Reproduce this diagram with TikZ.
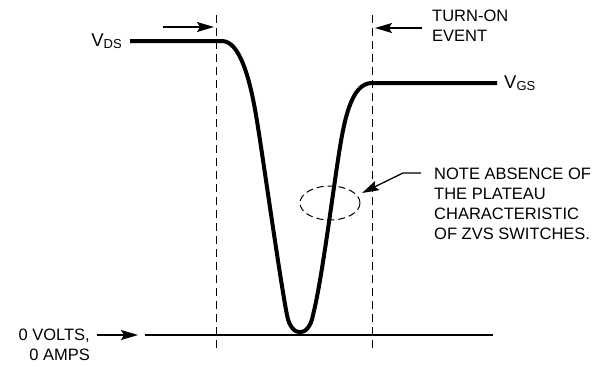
\documentclass[tikz,border=0pt]{standalone}
\usepackage{fontspec}
\setmainfont{Liberation Sans}
\usepackage{tikz}
\usetikzlibrary{arrows.meta,positioning,shapes.geometric}
\newcommand{\lowsub}[1]{{\fontsize{13}{13}\selectfont\raisebox{-1.5pt}{#1}}}
\tikzset{
  wave/.style={line width=4pt,line join=round},
  zeroline/.style={line width=2.3pt},
  vline/.style={line width=1.2pt,dash pattern=on 8pt off 5pt},
  ring/.style={line width=1pt,dash pattern=on 7pt off 4pt},
  arr/.style={-{Stealth[length=17pt,width=10pt,inset=3pt]},line width=1.3pt},
  lbl/.style={font=\fontsize{16.5}{20}\selectfont,inner sep=0pt},
  vlbl/.style={font=\fontsize{18.5}{20}\selectfont,inner sep=0pt},
}

\begin{document}
\begin{tikzpicture}[x=1pt,y=-1pt]
  \useasboundingbox (0,0) rectangle (606,365);
  % event markers
  \coordinate (la) at (216.7,15);
  \coordinate (lb) at (216.7,348);
  \coordinate (ra) at (372.7,15);
  \coordinate (rb) at (372.7,348);
  \draw[vline] (la) -- (lb);
  \draw[vline] (ra) -- (rb);
  % zero level
  \coordinate (z0) at (145,335);
  \coordinate (z1) at (493,335);
  \draw[zeroline] (z0) -- (z1);
  % waveform
  \coordinate (ws) at (130,41);
  \coordinate (we) at (497,83);
  \draw[wave] (ws) -- (222,41) .. controls (240,41) and (250,80) .. (256,115)
    .. controls (262,150) and (280,280) .. (287,315)
    .. controls (291,338) and (309,338) .. (313,315)
    .. controls (322,280) and (333,190) .. (340,147)
    .. controls (346,110) and (354,83) .. (372,83) -- (we);
  % labels
  \node[vlbl,anchor=east] (vds) at (122,41) {V\lowsub{DS}};
  \node[vlbl,anchor=west] (vgs) at (504,83) {V\lowsub{GS}};
  \node[lbl,anchor=north west,align=left] (turnon) at (432,9.5) {TURN-ON\\EVENT};
  \node[lbl,anchor=north west,align=left] (note) at (434,167.5)
    {NOTE ABSENCE OF\\THE PLATEAU\\CHARACTERISTIC\\OF ZVS SWITCHES.};
  \node[lbl,anchor=north east,align=right] (zero) at (90,329)
    {0 VOLTS,\\0 AMPS};
  \node[ring,draw,ellipse,minimum width=60pt,minimum height=34pt,inner sep=0pt] (plat) at (330,203) {};
  % arrows
  \coordinate (a1) at (163,27);
  \coordinate (a1e) at (214,27);
  \draw[arr] (a1) -- (a1e);
  \coordinate (a2) at (422,28);
  \coordinate (a2e) at (375,28);
  \draw[arr] (a2) -- (a2e);
  \coordinate (a3) at (97,335);
  \coordinate (a3e) at (138,335);
  \draw[arr] (a3) -- (a3e);
  \coordinate (k0) at (421,173);
  \coordinate (k1) at (403,173);
  \coordinate (k2) at (362,193);
  \draw[arr] (k0) -- (k1) -- (k2);
\end{tikzpicture}
\end{document}
